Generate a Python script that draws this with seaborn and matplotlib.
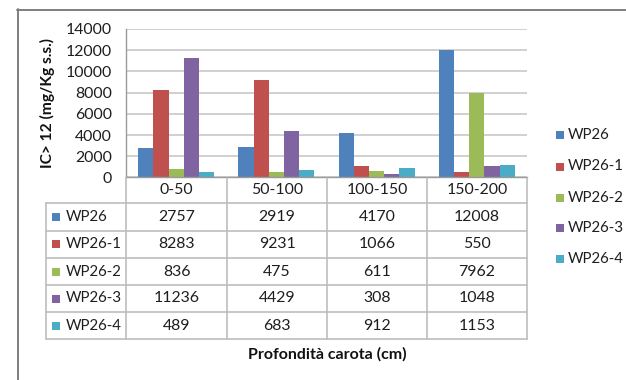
import matplotlib
matplotlib.use("Agg")
import matplotlib.pyplot as plt
import seaborn as sns
import pandas as pd
from matplotlib.patches import Rectangle

# Depth intervals of the core and measured concentrations per sampling point
categories = ["0-50", "50-100", "100-150", "150-200"]
series = ["WP26", "WP26-1", "WP26-2", "WP26-3", "WP26-4"]
wp26 = [2757, 2919, 4170, 12008]
wp26_1 = [8283, 9231, 1066, 550]
wp26_2 = [836, 475, 611, 7962]
wp26_3 = [11236, 4429, 308, 1048]
wp26_4 = [489, 683, 912, 1153]
values = [wp26, wp26_1, wp26_2, wp26_3, wp26_4]
yticks = [0, 2000, 4000, 6000, 8000, 10000, 12000, 14000]

colors = ["#4F81BD", "#C0504D", "#9BBB59", "#8064A2", "#4BACC6"]
FONT = ["Lato", "DejaVu Sans"]
FS = 11.4
FS_LAB = 10.8
TXT = "#1E1E1E"

sns.set_theme(style="white")
plt.rcParams["font.family"] = FONT

df = pd.DataFrame(
    [(c, s, v) for s, vals in zip(series, values) for c, v in zip(categories, vals)],
    columns=["Profondità", "Serie", "Valore"],
)

W, H = 626, 380
fig = plt.figure(figsize=(W / 100, H / 100), dpi=100)
fig.patch.set_facecolor("white")

def fx(x):
    return x / W

def fy(y):
    return 1 - y / H

# bar panel
x0, x1, ytop, ybot = 126, 527, 29, 177.5
ax = fig.add_axes([fx(x0), fy(ybot), fx(x1 - x0), (ybot - ytop) / H])
sns.barplot(data=df, x="Profondità", y="Valore", hue="Serie", order=categories,
            hue_order=series, palette=colors, width=0.76, gap=0, ax=ax,
            errorbar=None, legend=False, saturation=1, linewidth=0)
ax.set_ylim(0, 14000)
ax.set_xlim(-0.5, 3.5)
ax.set_yticks(yticks)
ax.set_yticklabels([str(t) for t in yticks], fontsize=FS, color=TXT)
ax.set_xticks([])
ax.set_xlabel("")
ax.set_ylabel("IC> 12 (mg/Kg s.s.)", fontsize=11.2, fontweight="bold", color="#111111")
ax.yaxis.grid(True, color="#C8C8C8", linewidth=1.2)
ax.set_axisbelow(True)
for side in ["top", "right"]:
    ax.spines[side].set_visible(False)
ax.spines["left"].set_color("#999999")
ax.spines["bottom"].set_color("#999999")
ax.spines["left"].set_linewidth(1.0)
ax.spines["bottom"].set_linewidth(1.0)
ax.tick_params(axis="y", length=4, color="#999999", width=1.0, pad=6)
ax.yaxis.set_label_coords((55 - x0) / (x1 - x0), 0.5)

# overlay in pixel coordinates for the data table, legend and frame
top = fig.add_axes([0, 0, 1, 1])
top.set_xlim(0, W)
top.set_ylim(H, 0)
top.axis("off")
top.patch.set_alpha(0)

lc = "#BDBDBD"
col_x = [126, 227, 327, 427, 527]
row_y = [203, 230.5, 258, 285, 312, 339]
for x in col_x:
    top.plot([x, x], [177.5, 339], color=lc, lw=1.2)
top.plot([46, 46], [203, 339], color=lc, lw=1.2)
for y in row_y:
    top.plot([46, 527], [y, y], color=lc, lw=1.2)

for i, c in enumerate(categories):
    cx = (col_x[i] + col_x[i + 1]) / 2
    top.text(cx, 190.5, c, ha="center", va="center", fontsize=FS, color=TXT)

for r, (s, vals, col) in enumerate(zip(series, values, colors)):
    cy = (row_y[r] + row_y[r + 1]) / 2
    top.add_patch(Rectangle((52, cy - 4), 8, 8, color=col, lw=0))
    top.text(66, cy, s, ha="left", va="center", fontsize=FS_LAB, color=TXT)
    for i, v in enumerate(vals):
        cx = (col_x[i] + col_x[i + 1]) / 2
        top.text(cx, cy, str(v), ha="center", va="center", fontsize=FS, color=TXT)

top.text(327, 354, "Profondità carota (cm)", ha="center", va="center",
         fontsize=11.5, fontweight="bold", color="#111111")

# side legend
leg_y = [135, 166.5, 197.5, 228, 259]
for s, col, y in zip(series, colors, leg_y):
    top.add_patch(Rectangle((556, y - 4), 8, 8, color=col, lw=0))
    top.text(568, y, s, ha="left", va="center", fontsize=FS_LAB, color=TXT)

# chart frame
top.plot([17, W + 5], [9.5, 9.5], color="#7F7F7F", lw=1.4, clip_on=False)
top.plot([17.5, 17.5], [9, H + 5], color="#7F7F7F", lw=1.4, clip_on=False)

fig.savefig("out.png", dpi=100, facecolor="white")
